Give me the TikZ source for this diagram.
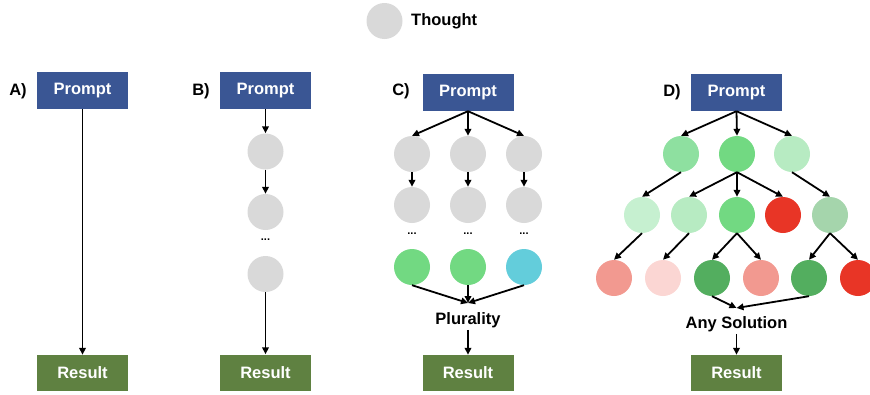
\documentclass[tikz,border=0pt]{standalone}
\usepackage{fontspec}
\setmainfont{Liberation Sans}
\usetikzlibrary{arrows.meta}
\definecolor{pblue}{HTML}{3A5694}
\definecolor{rgreen}{HTML}{5F8141}
\definecolor{tgray}{HTML}{D9D9D9}
\definecolor{gmid}{HTML}{72D982}
\definecolor{gcyan}{HTML}{63CDDB}
\definecolor{gA}{HTML}{8EE0A0}
\definecolor{gB}{HTML}{B7EBC2}
\definecolor{gC}{HTML}{C6F0D0}
\definecolor{gD}{HTML}{A5D5AC}
\definecolor{gdark}{HTML}{53AE5F}
\definecolor{rsal}{HTML}{F29990}
\definecolor{rpale}{HTML}{FBD6D3}
\definecolor{rred}{HTML}{E83526}
\tikzset{
  txt/.style={font=\fontsize{16.5}{19}\selectfont\bfseries},
  promptbox/.style={txt, fill=pblue, text=white, minimum width=91pt, minimum height=37pt, inner sep=0pt},
  resultbox/.style={txt, fill=rgreen, text=white, minimum width=91pt, minimum height=36pt, inner sep=0pt},
  th/.style={circle, fill=#1, minimum size=36pt, inner sep=0pt},
  th/.default=tgray,
  dotsnode/.style={font=\fontsize{11}{12}\selectfont\bfseries, inner sep=0pt},
  arr/.style={-{Triangle[length=7pt,width=6.5pt]}, line width=1.8pt, black},
}
\begin{document}
\begin{tikzpicture}[x=1pt,y=-1pt]
\useasboundingbox (0,0) rectangle (870,394);
% legend
\node[th] (leg) at (384.5,21) {};
\node[txt, anchor=west, inner sep=0pt] (legt) at (411,21) {Thought};

% Panel A
\node[txt, inner sep=0pt] (la) at (18,91) {A)};
\node[promptbox] (pa) at (82.5,90.5) {Prompt};
\node[resultbox] (ra) at (82.5,373) {Result};
\draw[arr] (pa.south) -- (ra.north);

% Panel B
\node[txt, inner sep=0pt] (lb) at (201,91) {B)};
\node[promptbox] (pb) at (265.5,90.5) {Prompt};
\node[th] (b1) at (265.5,151.5) {};
\node[th] (b2) at (265.5,212) {};
\node[dotsnode] (bd) at (265.5,240) {...};
\node[th] (b3) at (265.5,274) {};
\node[resultbox] (rb) at (265.5,372.5) {Result};
\draw[arr] (pb.south) -- (b1.north);
\draw[arr] (b1.south) -- (b2.north);
\draw[arr] (b3.south) -- (rb.north);

% Panel C
\node[txt, inner sep=0pt] (lc) at (401,91) {C)};
\node[promptbox] (pc) at (468,92.5) {Prompt};
\foreach \i/\x in {1/412,2/468,3/524}{
  \node[th] (c1\i) at (\x,154) {};
  \node[th] (c2\i) at (\x,205) {};
  \node[dotsnode] (cd\i) at (\x,234) {...};
  \draw[arr] (pc.south) -- (c1\i.north);
  \draw[arr] (c1\i.south) -- (c2\i.north);
}
\node[th=gmid] (c31) at (412,267) {};
\node[th=gmid] (c32) at (468,267) {};
\node[th=gcyan] (c33) at (524,267) {};
\node[txt, inner sep=2pt] (plu) at (468,320) {Plurality};
\coordinate (cv) at (468,303);
\foreach \i in {1,2,3}{\draw[arr] (c3\i.south) -- (cv);}
\node[resultbox] (rc) at (468,373) {Result};
\draw[arr] (plu.south) -- (rc.north);

% Panel D
\node[txt, inner sep=0pt] (ld) at (672,92) {D)};
\node[promptbox] (pd) at (736.5,92.5) {Prompt};
\node[th=gA] (d11) at (681,154) {};
\node[th=gmid] (d12) at (737,154) {};
\node[th=gB] (d13) at (792,154) {};
\node[th=gC] (d21) at (642,215) {};
\node[th=gB] (d22) at (689,215) {};
\node[th=gmid] (d23) at (737,215) {};
\node[th=rred] (d24) at (783,215) {};
\node[th=gD] (d25) at (830,215) {};
\node[th=rsal] (d31) at (614,278) {};
\node[th=rpale] (d32) at (663,278) {};
\node[th=gdark] (d33) at (712,278) {};
\node[th=rsal] (d34) at (761,278) {};
\node[th=gdark] (d35) at (809,278) {};
\node[th=rred] (d36) at (858,278) {};
\foreach \t in {d11,d12,d13}{\draw[arr] (pd.south) -- (\t.north);}
\draw[arr] (d11.south) -- (d21.north);
\foreach \t in {d22,d23,d24}{\draw[arr] (d12.south) -- (\t.north);}
\draw[arr] (d13.south) -- (d25.north);
\draw[arr] (d21.south) -- (d31.north);
\draw[arr] (d22.south) -- (d32.north);
\draw[arr] (d23.south) -- (d33.north);
\draw[arr] (d23.south) -- (d34.north);
\draw[arr] (d25.south) -- (d35.north);
\draw[arr] (d25.south) -- (d36.north);
\node[txt, inner sep=2pt] (any) at (736.5,324) {Any Solution};
\coordinate (dv) at (736.5,308);
\draw[arr] (d33.south) -- (dv);
\draw[arr] (d35.south) -- (dv);
\node[resultbox] (rd) at (736.5,373) {Result};
\draw[arr] (any.south) -- (rd.north);
\end{tikzpicture}
\end{document}
